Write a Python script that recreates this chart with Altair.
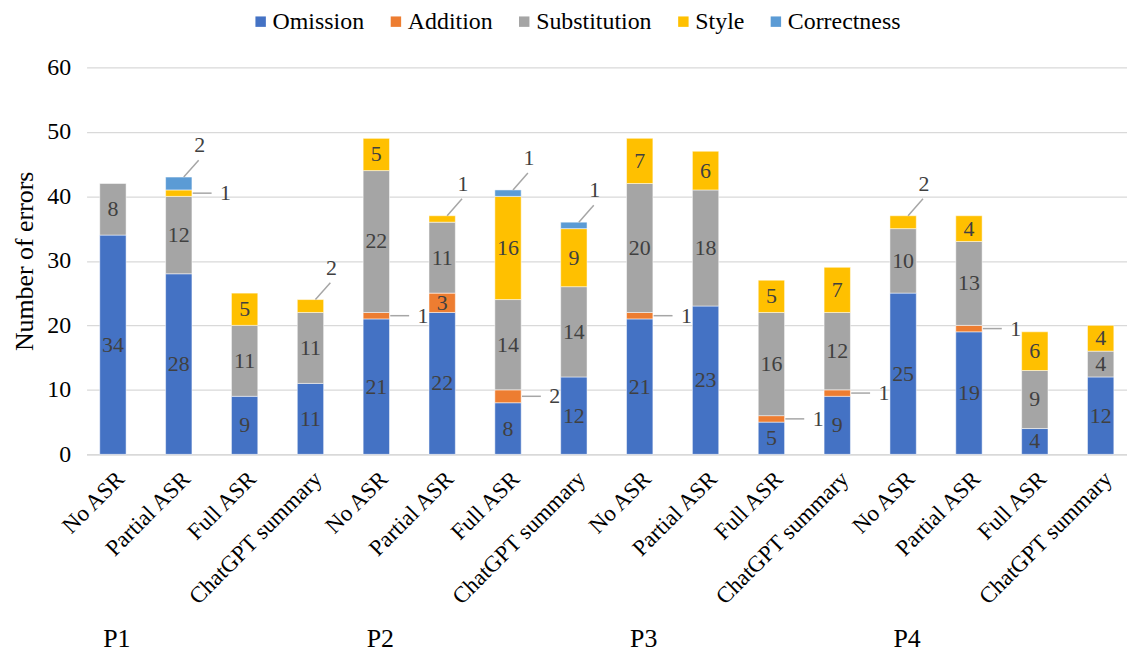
import altair as alt
import pandas as pd

participants = ["P1", "P2", "P3", "P4"]
conditions = ["No ASR", "Partial ASR", "Full ASR", "ChatGPT summary"]
error_types = ["Omission", "Addition", "Substitution", "Style", "Correctness"]
type_colors = ["#4472C4", "#ED7D31", "#A5A5A5", "#FFC000", "#5B9BD5"]

omission = [34, 28, 9, 11, 21, 22, 8, 12, 21, 23, 5, 9, 25, 19, 4, 12]
addition = [0, 0, 0, 0, 1, 3, 2, 0, 1, 0, 1, 1, 0, 1, 0, 0]
substitution = [8, 12, 11, 11, 22, 11, 14, 14, 20, 18, 16, 12, 10, 13, 9, 4]
style = [0, 1, 5, 2, 5, 1, 16, 9, 7, 6, 5, 7, 2, 4, 6, 4]
correctness = [0, 2, 0, 0, 0, 0, 1, 1, 0, 0, 0, 0, 0, 0, 0, 0]

series = [omission, addition, substitution, style, correctness]
bars = [f"{p}|{c}" for p in participants for c in conditions]

rows = []
for t_i, (t, vals) in enumerate(zip(error_types, series)):
    for b_i, b in enumerate(bars):
        rows.append({"bar": b, "type": t, "order": t_i, "value": vals[b_i]})
df = pd.DataFrame(rows)

groups = pd.DataFrame({"participant": participants,
                       "bar": [f"{p}|{conditions[0]}" for p in participants]})

FONT = "Liberation Serif, Times New Roman, serif"
YTITLE = "Number of errors"
LEAD = "#A6A6A6"
LBL = "#404040"


def xenc(**kw):
    return alt.X("bar:N", sort=bars, title=None, **kw)


x_main = alt.X(
    "bar:N", sort=bars, title=None,
    scale=alt.Scale(paddingInner=0.6, paddingOuter=0.2),
    axis=alt.Axis(labelAngle=-45, labelExpr="split(datum.label, '|')[1]",
                  labelFont=FONT, labelFontSize=23, labelColor="#000000",
                  labelPadding=13, labelLimit=400, ticks=False,
                  domainColor="#D9D9D9", domainWidth=1.5, grid=False),
)

base = (
    alt.Chart(df)
    .transform_filter("datum.value > 0")
    .transform_stack(stack="value", groupby=["bar"], as_=["y0", "y1"],
                     sort=[alt.SortField("order", order="ascending")])
    .transform_joinaggregate(total="sum(value)", groupby=["bar"])
    .transform_calculate(mid="(datum.y0 + datum.y1) / 2",
                         is_top="datum.y1 == datum.total")
)

bar_layer = base.mark_bar(stroke="white", strokeWidth=0.5).encode(
    x=x_main,
    y=alt.Y("y0:Q", title=YTITLE, scale=alt.Scale(domain=[0, 60]),
            axis=alt.Axis(values=[0, 10, 20, 30, 40, 50, 60], labelFont=FONT,
                          labelFontSize=24, labelColor="#000000", labelPadding=16,
                          titleFont=FONT, titleFontSize=26, titleFontWeight="normal",
                          titleColor="#000000", titlePadding=9,
                          gridColor="#D9D9D9", gridWidth=1.3,
                          domain=False, ticks=False)),
    y2="y1:Q",
    color=alt.Color("type:N", scale=alt.Scale(domain=error_types, range=type_colors),
                    legend=alt.Legend(title=None, orient="none", legendX=163, legendY=-58,
                                      direction="horizontal", columns=5,
                                      symbolType="square", symbolSize=110,
                                      symbolStrokeWidth=0, labelFont=FONT,
                                      labelFontSize=24, labelColor="#000000",
                                      labelOffset=0, columnPadding=19, padding=0)),
)

inside_text = base.transform_filter("datum.value > 2").mark_text(
    font=FONT, fontSize=22, color=LBL, baseline="middle", align="center"
).encode(x=xenc(), y=alt.Y("mid:Q", title=YTITLE), text="value:Q")

right_rule = base.transform_filter("datum.value <= 2 && !datum.is_top").mark_rule(
    color=LEAD, strokeWidth=1.5, xOffset=14, x2Offset=33
).encode(x=xenc(bandPosition=0.5), x2=alt.X2("bar", bandPosition=0.5),
         y=alt.Y("mid:Q", title=YTITLE))

right_text = base.transform_filter("datum.value <= 2 && !datum.is_top").mark_text(
    font=FONT, fontSize=22, color=LBL, baseline="middle", align="center", dx=47
).encode(x=xenc(), y=alt.Y("mid:Q", title=YTITLE), text="value:Q")

up_rule = base.transform_filter("datum.value <= 2 && datum.is_top").mark_rule(
    color=LEAD, strokeWidth=1.5, xOffset=5, x2Offset=20, y2Offset=-17
).encode(x=xenc(bandPosition=0.5), x2=alt.X2("bar", bandPosition=0.5),
         y=alt.Y("y1:Q", title=YTITLE), y2="y1:Q")

up_text = base.transform_filter("datum.value <= 2 && datum.is_top").mark_text(
    font=FONT, fontSize=22, color=LBL, baseline="middle", align="center", dx=21, dy=-32
).encode(x=xenc(), y=alt.Y("y1:Q", title=YTITLE), text="value:Q")

group_text = alt.Chart(groups).mark_text(
    font=FONT, fontSize=26, color="#000000", baseline="middle", align="center", dx=4
).encode(x=xenc(), y=alt.value(575), text="participant:N")

chart = (
    alt.layer(bar_layer, inside_text, right_rule, right_text, up_rule, up_text, group_text)
    .properties(width=1046, height=389,
                padding={"left": 4, "top": 0, "right": 0, "bottom": 0},
                background="white")
    .configure_view(stroke=None)
)

chart.save("out.html", embed_options={"renderer": "svg", "actions": False})
